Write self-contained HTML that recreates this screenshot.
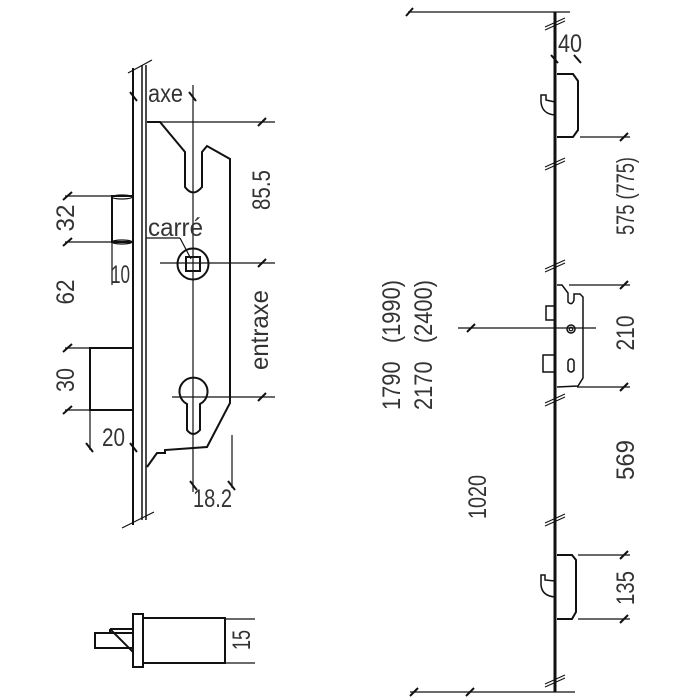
<!DOCTYPE html>
<html><head><meta charset="utf-8"><style>
html,body{margin:0;padding:0;background:#fff;}
svg{display:block;}
text{font-family:"Liberation Sans",sans-serif;font-size:25px;fill:#333;}
</style></head><body>
<svg width="700" height="700" viewBox="0 0 700 700" xmlns="http://www.w3.org/2000/svg">
<g fill="none" stroke="#111" stroke-width="1.2">
<line x1="133" y1="68" x2="133" y2="525" stroke-width="2"/>
<line x1="142" y1="65" x2="142" y2="520" stroke-width="1.5"/>
<line x1="146" y1="65" x2="146" y2="520" stroke-width="1.5"/>
<line x1="128" y1="73" x2="152" y2="60"/>
<line x1="122" y1="528" x2="154" y2="512"/>
<path d="M147 122 L160 122 L185 152 L185 187 Q193 198 202 187 L202 152 L207 146 L230 159 L230 403 L207 447 L165 450 L165 453 L157 453 L147 467" stroke-width="2"/>
<line x1="193" y1="85" x2="193" y2="492"/>
<line x1="160" y1="122" x2="275" y2="122"/>
<line x1="160" y1="263" x2="275" y2="263"/>
<line x1="172" y1="397" x2="275" y2="397"/>
<circle cx="193" cy="264" r="15.5" stroke-width="2"/>
<rect x="186" y="257" width="14" height="14" stroke-width="2"/>
<line x1="180" y1="238" x2="191" y2="259"/>
<line x1="146" y1="238" x2="180" y2="238"/>
<path d="M187 417 L187 404 A14 14 0 1 1 200 404 L200 430 Q193 438 187 430 Z" stroke-width="2"/>
<rect x="112" y="196" width="21" height="46" stroke-width="2"/>
<ellipse cx="122" cy="197" rx="10" ry="2"/>
<ellipse cx="122" cy="242" rx="10" ry="2"/>
<line x1="65" y1="196" x2="112" y2="196"/>
<line x1="65" y1="242" x2="112" y2="242"/>
<line x1="112" y1="242" x2="112" y2="285"/>
<rect x="90" y="348" width="43" height="62" stroke-width="2"/>
<line x1="65" y1="348" x2="90" y2="348"/>
<line x1="65" y1="410" x2="90" y2="410"/>
<line x1="90" y1="410" x2="90" y2="450"/>
<line x1="232" y1="435" x2="232" y2="488"/>
<rect x="133" y="614" width="10" height="53" stroke-width="2"/>
<rect x="143" y="618" width="82" height="45" stroke-width="2"/>
<rect x="95" y="633" width="38" height="15" stroke-width="2"/>
<path d="M110 629 L133 629 M110 629 L133 652 M110 633 L110 629" stroke-width="2"/>
<line x1="225" y1="619" x2="255" y2="619"/>
<line x1="225" y1="663" x2="255" y2="663"/>
<line x1="555" y1="12" x2="555" y2="692" stroke-width="3"/>
<line x1="408" y1="12" x2="570" y2="12"/>
<line x1="410" y1="692" x2="575" y2="692"/>
<path d="M557 74 L573 74 L578 81 L578 130 L573 137 L557 137" stroke-width="2"/>
<path d="M555 115 Q542 114 541 102 L541 95 L546 95 L546 100 L555 102" stroke-width="1.5"/>
<line x1="580" y1="137" x2="630" y2="137"/>
<path d="M557 285 L562 285 L568 293 L568 302 Q572 306 574 300 L574 294 L580 294 L583 297 L583 378 L578 386 L557 387" stroke-width="1.5"/>
<circle cx="571" cy="329" r="4" stroke-width="1.5"/>
<circle cx="571" cy="329" r="1.8"/>
<path d="M568 368 L568 362 A3 3 0 1 1 574 362 L574 370 Q571 374 568 370 Z" stroke-width="1.5"/>
<rect x="546" y="306" width="9" height="14" stroke-width="1.5"/>
<rect x="543" y="355" width="12" height="17" stroke-width="1.5"/>
<line x1="569" y1="285" x2="630" y2="285"/>
<line x1="577" y1="387" x2="630" y2="387"/>
<line x1="458" y1="328" x2="596" y2="328"/>
<path d="M557 555 L572 555 L576 560 L576 612 L572 619 L557 619" stroke-width="2"/>
<path d="M555 597 Q542 596 541 585 L541 575 L545 575 L545 580 L555 581" stroke-width="1.5"/>
<line x1="578" y1="555" x2="630" y2="555"/>
<line x1="578" y1="619" x2="630" y2="619"/>
</g>
<g stroke="#111" stroke-width="2">
<line x1="130" y1="92" x2="137" y2="101"/><line x1="189" y1="92" x2="196" y2="101"/>
<line x1="258" y1="126" x2="266" y2="118"/><line x1="258" y1="267" x2="266" y2="259"/><line x1="258" y1="401" x2="266" y2="393"/>
<line x1="63" y1="200" x2="72" y2="192"/><line x1="63" y1="246" x2="72" y2="238"/>
<line x1="63" y1="352" x2="72" y2="344"/><line x1="63" y1="414" x2="72" y2="406"/>
<line x1="86" y1="443" x2="93" y2="452"/><line x1="130" y1="443" x2="137" y2="452"/>
<line x1="190" y1="481" x2="197" y2="490"/><line x1="228" y1="481" x2="235" y2="490"/>
<line x1="406" y1="16" x2="413" y2="8"/>
<line x1="410" y1="696" x2="418" y2="688"/><line x1="466" y1="696" x2="474" y2="688"/>
<line x1="551" y1="55" x2="558" y2="63"/><line x1="574" y1="55" x2="581" y2="63"/>
<line x1="620" y1="141" x2="628" y2="133"/><line x1="620" y1="289" x2="628" y2="281"/><line x1="620" y1="391" x2="628" y2="383"/>
<line x1="620" y1="559" x2="628" y2="551"/><line x1="620" y1="623" x2="628" y2="615"/>
<line x1="467" y1="332" x2="475" y2="324"/>
</g>
<g stroke="#111" stroke-width="1">
<line x1="545" y1="27" x2="565" y2="18"/><line x1="545" y1="30" x2="565" y2="21"/>
<line x1="545" y1="167" x2="565" y2="158"/><line x1="545" y1="170" x2="565" y2="161"/>
<line x1="545" y1="269" x2="565" y2="260"/><line x1="545" y1="272" x2="565" y2="263"/>
<line x1="545" y1="403" x2="565" y2="394"/><line x1="545" y1="406" x2="565" y2="397"/>
<line x1="545" y1="523" x2="565" y2="514"/><line x1="545" y1="526" x2="565" y2="517"/>
<line x1="545" y1="684" x2="565" y2="675"/><line x1="545" y1="687" x2="565" y2="678"/>
</g>
<g>
<text x="148" y="102" textLength="35" lengthAdjust="spacingAndGlyphs">axe</text>
<text x="148" y="236" textLength="55" lengthAdjust="spacingAndGlyphs">carré</text>
<text x="111" y="283" textLength="19" lengthAdjust="spacingAndGlyphs">10</text>
<text x="102" y="446" textLength="23" lengthAdjust="spacingAndGlyphs">20</text>
<text x="193" y="507" textLength="39" lengthAdjust="spacingAndGlyphs">18.2</text>
<text x="558" y="52" textLength="24" lengthAdjust="spacingAndGlyphs">40</text>
<text transform="translate(270,190) rotate(-90)" text-anchor="middle" textLength="40" lengthAdjust="spacingAndGlyphs">85.5</text>
<text transform="translate(268,330) rotate(-90)" text-anchor="middle" textLength="80" lengthAdjust="spacingAndGlyphs">entraxe</text>
<text transform="translate(74,218) rotate(-90)" text-anchor="middle" textLength="27" lengthAdjust="spacingAndGlyphs">32</text>
<text transform="translate(74,292) rotate(-90)" text-anchor="middle" textLength="25" lengthAdjust="spacingAndGlyphs">62</text>
<text transform="translate(74,380) rotate(-90)" text-anchor="middle" textLength="24" lengthAdjust="spacingAndGlyphs">30</text>
<text transform="translate(250,640) rotate(-90)" text-anchor="middle" textLength="20" lengthAdjust="spacingAndGlyphs">15</text>
<text transform="translate(400,345) rotate(-90)" text-anchor="middle" xml:space="preserve" textLength="130" lengthAdjust="spacingAndGlyphs">1790   (1990)</text>
<text transform="translate(432,345) rotate(-90)" text-anchor="middle" xml:space="preserve" textLength="130" lengthAdjust="spacingAndGlyphs">2170   (2400)</text>
<text transform="translate(486,497) rotate(-90)" text-anchor="middle" textLength="44" lengthAdjust="spacingAndGlyphs">1020</text>
<text transform="translate(634,196) rotate(-90)" text-anchor="middle" xml:space="preserve" textLength="78" lengthAdjust="spacingAndGlyphs">575 (775)</text>
<text transform="translate(634,333) rotate(-90)" text-anchor="middle" textLength="35" lengthAdjust="spacingAndGlyphs">210</text>
<text transform="translate(634,460) rotate(-90)" text-anchor="middle" textLength="40" lengthAdjust="spacingAndGlyphs">569</text>
<text transform="translate(634,588) rotate(-90)" text-anchor="middle" textLength="34" lengthAdjust="spacingAndGlyphs">135</text>
</g>
</svg>
</body></html>
